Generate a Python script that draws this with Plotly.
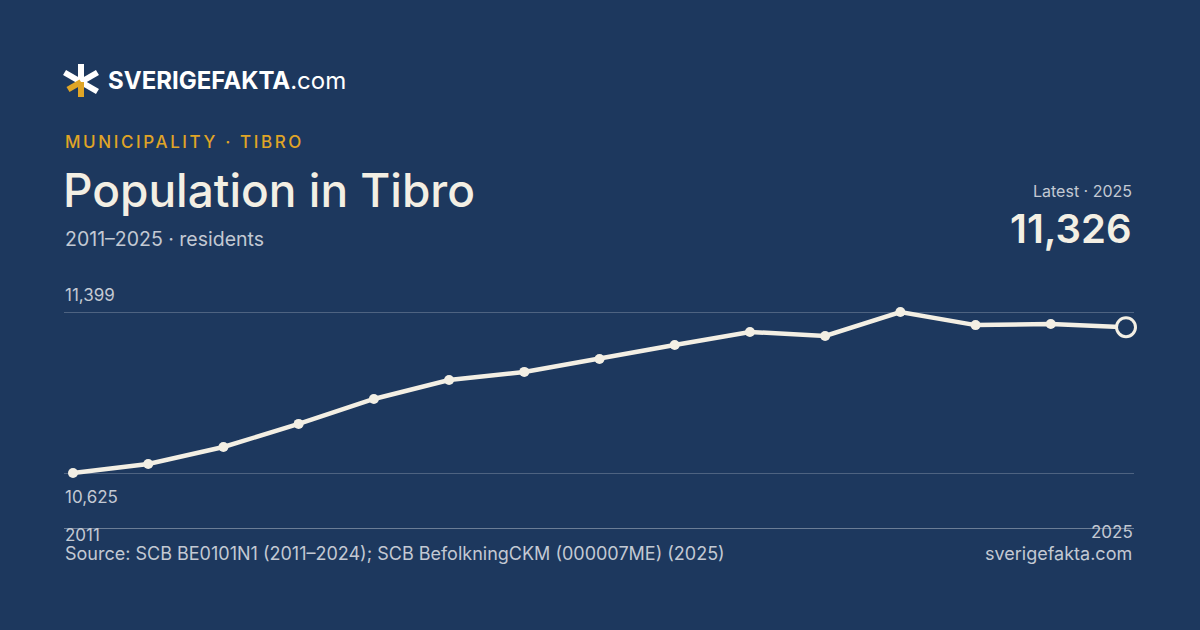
import math
import plotly.graph_objects as go

# ---- data ----
years = list(range(2011, 2026))
population = [10625, 10668, 10750, 10861, 10981, 11072, 11111, 11173, 11240,
              11303, 11284, 11399, 11336, 11341, 11326]
y_ticks = [10625, 11399]
y_tick_labels = ["10,625", "11,399"]
x_tick_labels = ["2011", "2025"]

title = "Population in Tibro"
kicker = "MUNICIPALITY · TIBRO"
subtitle = "2011–2025 · residents"
latest_label = "Latest · 2025"
latest_value = "11,326"
source = "Source: SCB BE0101N1 (2011–2024); SCB BefolkningCKM (000007ME) (2025)"
site = "sverigefakta.com"

W, H = 1200, 630
BG = "#1d385e"
CREAM = "#f3efe4"
GOLD = "#e0a526"
MUTED = "#c3c9d3"
FONT = "Inter, Roboto, sans-serif"


def px(x):
    return x / W


def py(y):
    return 1 - y / H


fig = go.Figure()

fig.add_trace(go.Scatter(
    x=years, y=population, mode="lines+markers",
    line=dict(color=CREAM, width=4.5),
    marker=dict(size=10, color=CREAM),
    cliponaxis=False, hoverinfo="skip", showlegend=False,
))
fig.add_trace(go.Scatter(
    x=[years[-1]], y=[population[-1]], mode="markers",
    marker=dict(size=19, color=BG, line=dict(color=CREAM, width=3)),
    cliponaxis=False, hoverinfo="skip", showlegend=False,
))

# axis ranges chosen so 2011 -> px 73, 2025 -> px 1126
ppy = (1126 - 73) / 14
x0 = 2011 - (73 - 64) / ppy
x1 = 2025 + (1134 - 1126) / ppy
ppv = (473 - 312) / (11399 - 10625)
yb = 10625 - (528 - 473) / ppv
yt = 11399 + (312 - 290) / ppv

fig.update_layout(
    width=W, height=H,
    margin=dict(l=0, r=0, t=0, b=0),
    paper_bgcolor=BG, plot_bgcolor=BG,
    font=dict(family=FONT, color=CREAM),
    xaxis=dict(domain=[px(64), px(1134)], range=[x0, x1], showgrid=False,
               zeroline=False, showticklabels=False, ticks="",
               showline=True, linecolor="rgba(255,255,255,0.35)", linewidth=1),
    yaxis=dict(domain=[py(528), py(290)], range=[yb, yt], tickvals=y_ticks,
               showgrid=True, gridcolor="rgba(255,255,255,0.22)", gridwidth=1,
               zeroline=False, showticklabels=False, ticks=""),
)

ann = []


def text(x, y, s, size, color, xanchor="left", yanchor="middle", weight=400):
    ann.append(dict(x=px(x), y=py(y), xref="paper", yref="paper", text=s,
                    showarrow=False, xanchor=xanchor, yanchor=yanchor,
                    font=dict(size=size, color=color, family=FONT, weight=weight)))


# logo
text(106, 81, "<b>SVERIGEFAKTA</b>.com", 24, "#ffffff")
# kicker
text(63, 142, '<span style="letter-spacing:2.6px">' + kicker + "</span>", 17, GOLD, weight=500)
# title & subtitle
text(61, 190, title, 46, CREAM, weight=500)
text(63, 239, subtitle, 19.5, MUTED)
# latest
text(1134, 191, latest_label, 16, MUTED, xanchor="right")
text(1134, 228, latest_value, 40, CREAM, xanchor="right", weight=600)
# y labels
text(63, 295, y_tick_labels[1], 17, MUTED)
text(63, 497, y_tick_labels[0], 17, MUTED)
# x labels
text(63, 535, x_tick_labels[0], 17, MUTED)
text(1135, 532, x_tick_labels[1], 17, MUTED, xanchor="right")
# footer
text(63, 553, source, 18, MUTED)
text(1134, 553, site, 18, MUTED, xanchor="right")

fig.update_layout(annotations=ann)

# logo asterisk
cx, cy = 81, 82
arms = [(90, "#ffffff", 18), (30, "#ffffff", 19), (-30, "#ffffff", 19),
        (150, "#ffffff", 19), (-90, GOLD, 15), (-150, GOLD, 15)]
shapes = []
for ang, col, L in arms:
    a = math.radians(ang)
    ex, ey = cx + L * math.cos(a), cy - L * math.sin(a)
    shapes.append(dict(type="line", xref="paper", yref="paper",
                       x0=px(cx), y0=py(cy), x1=px(ex), y1=py(ey),
                       line=dict(color=col, width=6)))
fig.update_layout(shapes=shapes)

fig.write_html("out.html")
